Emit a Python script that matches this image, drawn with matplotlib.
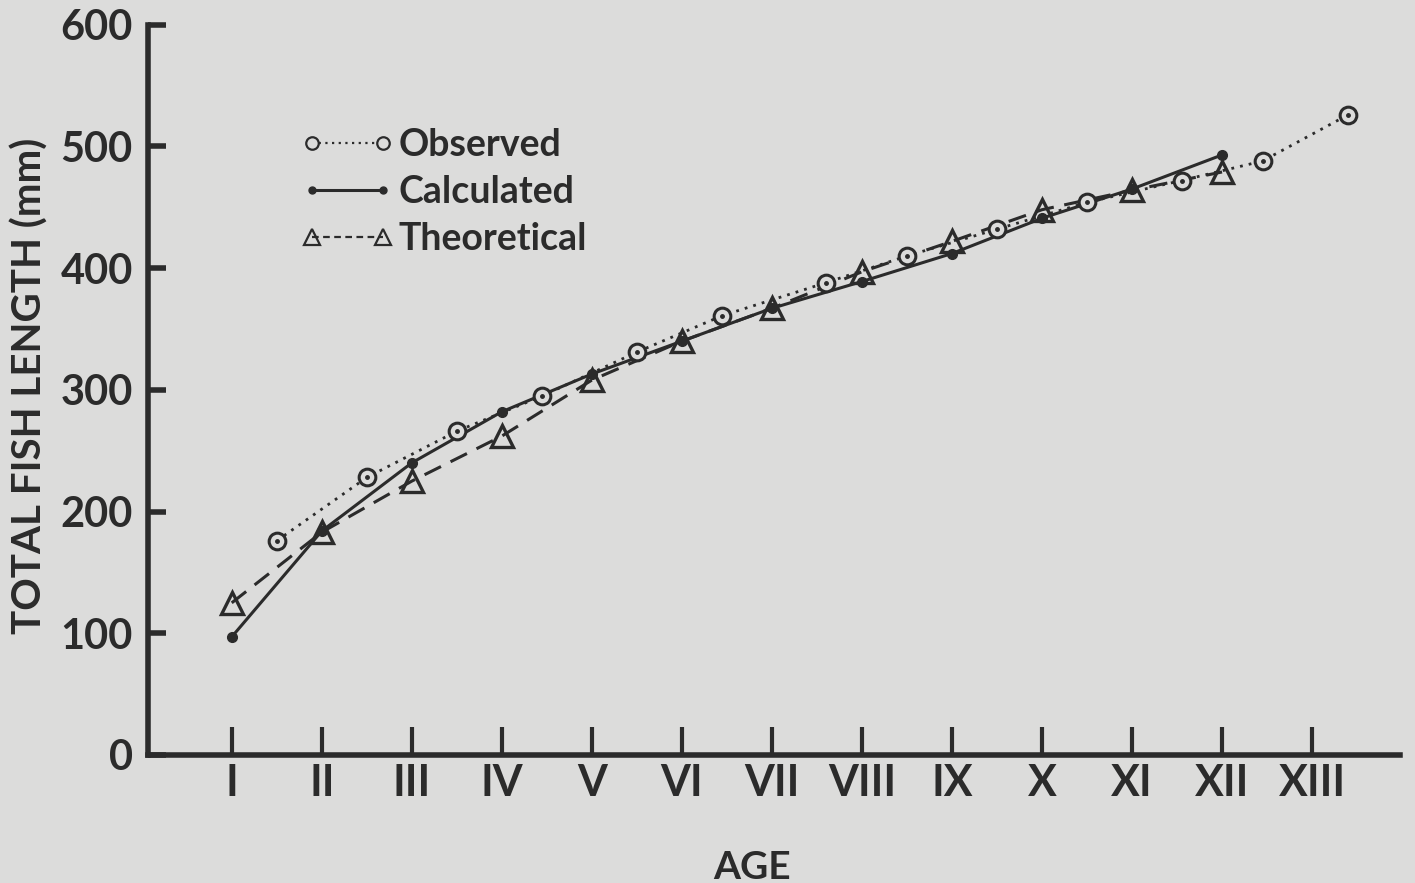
import matplotlib
matplotlib.use("Agg")
import matplotlib.pyplot as plt
from matplotlib.lines import Line2D

# ---- data ----
age_labels = ["I", "II", "III", "IV", "V", "VI", "VII", "VIII", "IX", "X", "XI", "XII", "XIII"]
ages = [1, 2, 3, 4, 5, 6, 7, 8, 9, 10, 11, 12, 13]

observed_age = [1.5, 2.5, 3.5, 4.45, 5.5, 6.45, 7.6, 8.5, 9.5, 10.5, 11.55, 12.45, 13.4]
observed_len = [176, 228, 266, 295, 331, 361, 388, 410, 432, 454, 472, 488, 526]

calc_age = [1, 2, 3, 4, 5, 6, 7, 8, 9, 10, 11, 12]
calc_len = [97, 184, 240, 282, 313, 340, 367, 389, 412, 441, 465, 493]

theo_age = [1, 2, 3, 4, 5, 6, 7, 8, 9, 10, 11, 12]
theo_len = [125, 183, 225, 262, 308, 340, 367, 397, 422, 448, 464, 479]

y_ticks = [0, 100, 200, 300, 400, 500, 600]

# ---- style ----
BG = "#dcdcdb"
INK = "#2b2b2b"
plt.rcParams["font.family"] = ["Lato", "DejaVu Sans"]

fig = plt.figure(figsize=(14.15, 8.83), dpi=100, facecolor=BG)
ax = fig.add_axes([0.1046, 0.145, 0.885, 0.827], facecolor=BG)

ax.plot(observed_age, observed_len, linestyle=(0, (1, 2.2)), color=INK, lw=2.0,
        marker="o", markersize=12, markerfacecolor=BG, markeredgecolor=INK,
        markeredgewidth=2.2, zorder=3)
ax.plot(observed_age, observed_len, linestyle="none", marker="o", markersize=2.5,
        color=INK, zorder=4)
ax.plot(calc_age, calc_len, linestyle="-", color=INK, lw=2.2,
        marker="o", markersize=7, markerfacecolor=INK, markeredgecolor=INK, zorder=2)
ax.plot(theo_age, theo_len, linestyle=(0, (6, 3.5)), color=INK, lw=2.2,
        marker="^", markersize=16, markerfacecolor="none", markeredgecolor=INK,
        markeredgewidth=2.4, zorder=2)

ax.set_xlim(0.07, 13.98)
ax.set_ylim(0, 600)

for s in ["top", "right"]:
    ax.spines[s].set_visible(False)
for s in ["left", "bottom"]:
    ax.spines[s].set_linewidth(4)
    ax.spines[s].set_color(INK)

ax.set_xticks(ages)
ax.set_xticklabels(age_labels, fontsize=31, fontweight="bold", color=INK)
ax.set_yticks(y_ticks)
ax.set_yticklabels([str(v) for v in y_ticks], fontsize=30, fontweight="bold", color=INK)
ax.tick_params(axis="x", direction="in", length=20, width=3, pad=6, colors=INK)
ax.tick_params(axis="y", direction="in", length=13, width=4, pad=11, colors=INK)

ax.set_xlabel("AGE", fontsize=28, fontweight="bold", color=INK)
ax.xaxis.set_label_coords(0.482, -0.13)
ax.set_ylabel("TOTAL FISH LENGTH (mm)", fontsize=29, fontweight="bold", color=INK)
ax.yaxis.set_label_coords(-0.079, 0.505)

handles = [
    Line2D([], [], linestyle=(0, (1, 2)), color=INK, lw=1.6, marker="o", markersize=9,
           markerfacecolor=BG, markeredgecolor=INK, markeredgewidth=1.6),
    Line2D([], [], linestyle="-", color=INK, lw=2.2, marker="o", markersize=5,
           markerfacecolor=INK, markeredgecolor=INK),
    Line2D([], [], linestyle=(0, (3, 2)), color=INK, lw=1.6, marker="^", markersize=11,
           markerfacecolor="none", markeredgecolor=INK, markeredgewidth=1.6),
]
leg = ax.legend(handles, ["Observed", "Calculated", "Theoretical"], loc="upper left",
                bbox_to_anchor=(0.095, 0.905), frameon=False, numpoints=2,
                handlelength=2.5, handletextpad=0.1, labelspacing=0.35,
                prop={"size": 27, "weight": "bold"})
for t in leg.get_texts():
    t.set_color(INK)

fig.savefig("out.png", dpi=100, facecolor=BG)
